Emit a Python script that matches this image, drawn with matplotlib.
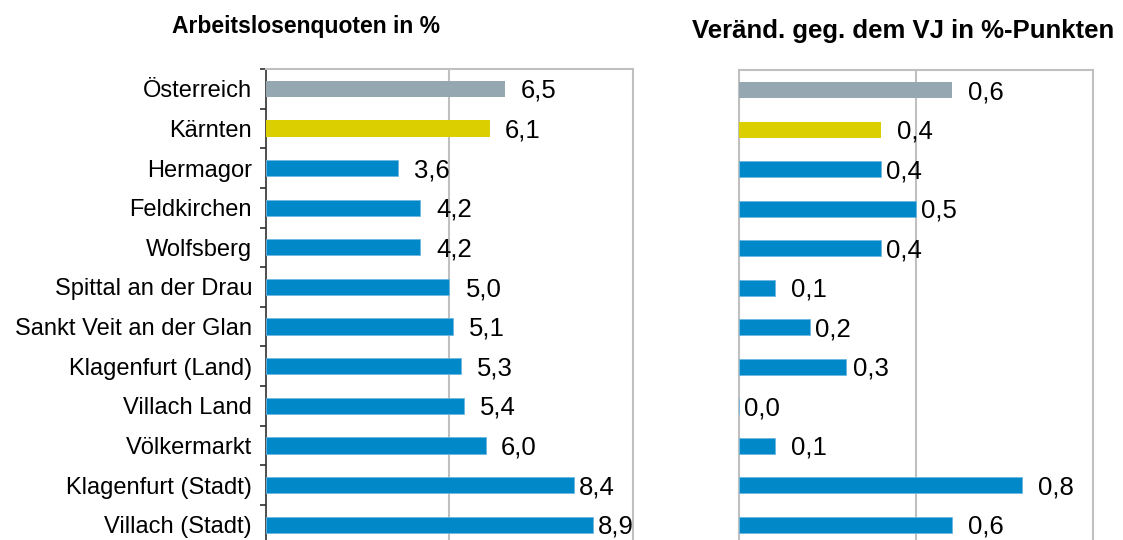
import numpy as np
import matplotlib
matplotlib.use("Agg")
import matplotlib.pyplot as plt

plt.rcParams['font.family'] = ['Liberation Sans', 'DejaVu Sans']

regions = ['Österreich', 'Kärnten', 'Hermagor', 'Feldkirchen', 'Wolfsberg',
           'Spittal an der Drau', 'Sankt Veit an der Glan', 'Klagenfurt (Land)',
           'Villach Land', 'Völkermarkt', 'Klagenfurt (Stadt)', 'Villach (Stadt)']
quote = [6.5, 6.1, 3.6, 4.2, 4.2, 5.0, 5.1, 5.3, 5.4, 6.0, 8.4, 8.9]
change = [0.6, 0.4, 0.4, 0.5, 0.4, 0.1, 0.2, 0.3, 0.0, 0.1, 0.8, 0.6]

title_left = 'Arbeitslosenquoten in %'
title_right = 'Veränd. geg. dem VJ in %-Punkten'

# styling
GRAY, YELLOW, BLUE = '#95A7B0', '#DCCF00', '#0088C8'
colors = [GRAY, YELLOW] + [BLUE] * (len(regions) - 2)
edges = ['none', 'none'] + ['#6DB8E0'] * (len(regions) - 2)
frame = '#C0C0C0'
# label gaps (pixels) as placed in the original
gap_left = [16, 15, 16, 16, 16, 16, 16, 16, 16, 15, 5, 5]
gap_right = [16, 16, 5, 5, 5, 16, 5, 7, 5, 16, 16, 16]


def fmt(v):
    return f'{v:.1f}'.replace('.', ',')


def draw_panel(ax, values, xmax, gaps):
    y = np.arange(len(values))
    ax.barh(y, values, height=0.41, color=colors, edgecolor=edges, linewidth=0.6, zorder=3)
    ax.set_xlim(0, xmax)
    ax.set_ylim(len(values) - 0.5, -0.5)
    ax.axvline(xmax / 2, color=frame, lw=1.5, zorder=1)
    for s in ['top', 'right', 'bottom']:
        ax.spines[s].set_color(frame)
        ax.spines[s].set_linewidth(1.5)
    ax.set_xticks([])
    for i, v in enumerate(values):
        ax.annotate(fmt(v), (v, i), xytext=(gaps[i] * 0.72, -1.5), textcoords='offset points',
                    ha='left', va='center', fontsize=18.5, color='black', zorder=4)


fig = plt.figure(figsize=(11.23, 5.4), dpi=100)
ax1 = fig.add_axes([0.23686, -0.00833, 0.32681, 0.88055])
ax2 = fig.add_axes([0.65850, -0.00833, 0.31479, 0.87778])

draw_panel(ax1, quote, 10, gap_left)
ax1.spines['left'].set_color('#303030')
ax1.spines['left'].set_linewidth(1.2)
ax1.set_yticks(np.arange(len(regions)))
ax1.set_yticklabels(regions, fontsize=17)
ax1.tick_params(axis='y', which='major', length=0, pad=10)
ax1.set_yticks(np.arange(len(regions) + 1) - 0.5, minor=True)
ax1.tick_params(axis='y', which='minor', length=4, width=1.2, color='#303030')

draw_panel(ax2, change, 1.0, gap_right)
ax2.spines['left'].set_color(frame)
ax2.spines['left'].set_linewidth(1.5)
ax2.set_yticks([])

fig.text(306 / 1123, 1 - 33 / 540, title_left, ha='center', va='baseline',
         fontsize=16.5, fontweight='bold')
fig.text(903 / 1123, 1 - 38 / 540, title_right, ha='center', va='baseline',
         fontsize=18.5, fontweight='bold')

fig.savefig('out.png', dpi=100)
